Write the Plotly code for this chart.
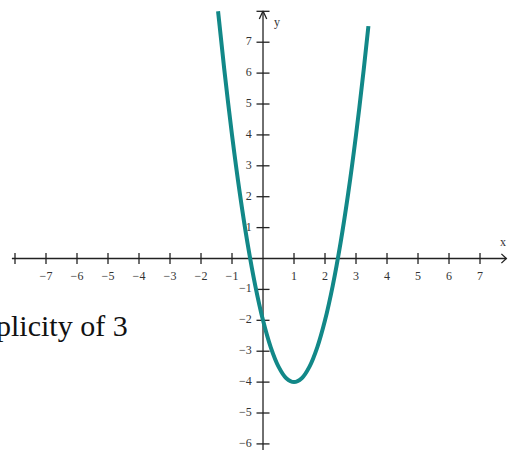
import plotly.graph_objects as go

# Parabola samples (x, y) along the curve
curve_x = [-1.45, -1.25, -1.0, -0.75, -0.5, -0.25, 0.0, 0.25, 0.5, 0.75, 1.0,
           1.25, 1.5, 1.75, 2.0, 2.25, 2.5, 2.75, 3.0, 3.25, 3.4]
curve_y = [8.0, 6.125, 4.0, 2.125, 0.5, -0.875, -2.0, -2.875, -3.5, -3.875, -4.0,
           -3.875, -3.5, -2.875, -2.0, -0.875, 0.5, 2.125, 4.0, 6.125, 7.52]

# Axis ticks and labels
x_ticks = [-8, -7, -6, -5, -4, -3, -2, -1, 1, 2, 3, 4, 5, 6, 7]
x_tick_labels = ["", "\u22127", "\u22126", "\u22125", "\u22124", "\u22123", "\u22122", "\u22121",
                 "1", "2", "3", "4", "5", "6", "7"]
y_ticks = [-6, -5, -4, -3, -2, -1, 1, 2, 3, 4, 5, 6, 7, 8]
y_tick_labels = ["\u22126", "\u22125", "\u22124", "\u22123", "\u22122", "\u22121",
                 "1", "2", "3", "4", "5", "6", "7", ""]
caption = "plicity of 3"

AX = "#222222"
TEAL = "#128888"
SERIF = "Liberation Serif, Times New Roman, serif"

x_range = [-8.484, 7.903]
y_range = [-6.197, 8.366]

fig = go.Figure()

# axis lines
fig.add_trace(go.Scatter(x=[-8.1, 7.85], y=[0, 0], mode="lines",
                         line=dict(color=AX, width=1.3), hoverinfo="skip"))
fig.add_trace(go.Scatter(x=[0, 0], y=[8.01, -6.4], mode="lines",
                         line=dict(color=AX, width=1.3), hoverinfo="skip"))

# arrowheads
fig.add_trace(go.Scatter(x=[7.69, 7.85, 7.69], y=[0.15, 0, -0.15], mode="lines",
                         line=dict(color=AX, width=1.3), hoverinfo="skip"))
fig.add_trace(go.Scatter(x=[-0.12, 0, 0.12], y=[7.75, 8.01, 7.75], mode="lines",
                         line=dict(color=AX, width=1.3), hoverinfo="skip"))

# tick marks
tx, ty = [], []
for k in x_ticks:
    tx += [k, k, None]
    ty += [-0.18, 0.18, None]
for k in y_ticks:
    tx += [-0.21, 0.21, None]
    ty += [k, k, None]
fig.add_trace(go.Scatter(x=tx, y=ty, mode="lines",
                         line=dict(color=AX, width=1.3), hoverinfo="skip"))

# tick labels
fig.add_trace(go.Scatter(x=x_ticks, y=[-0.6] * len(x_ticks), mode="text",
                         text=x_tick_labels, textposition="middle center",
                         textfont=dict(family=SERIF, size=12, color="#333333"),
                         hoverinfo="skip"))
fig.add_trace(go.Scatter(x=[-0.36] * len(y_ticks), y=y_ticks, mode="text",
                         text=y_tick_labels, textposition="middle left",
                         textfont=dict(family=SERIF, size=12, color="#333333"),
                         hoverinfo="skip"))

# the parabola
fig.add_trace(go.Scatter(x=curve_x, y=curve_y, mode="lines",
                         line=dict(color=TEAL, width=4, shape="spline"),
                         hoverinfo="skip"))

fig.add_annotation(x=7.74, y=0.53, text="x", showarrow=False,
                   font=dict(family=SERIF, size=12, color="#333333"))
fig.add_annotation(x=0.44, y=7.66, text="y", showarrow=False,
                   font=dict(family=SERIF, size=12, color="#333333"))
fig.add_annotation(x=-4.3, y=-2.17, text=caption, showarrow=False,
                   xanchor="right", yanchor="middle",
                   font=dict(family=SERIF, size=30, color="#111111"))

fig.update_layout(
    width=508, height=450,
    margin=dict(l=0, r=0, t=0, b=0),
    paper_bgcolor="white", plot_bgcolor="white",
    showlegend=False,
    xaxis=dict(range=x_range, visible=False, fixedrange=True),
    yaxis=dict(range=y_range, visible=False, fixedrange=True),
)

fig.write_html("out.html")
